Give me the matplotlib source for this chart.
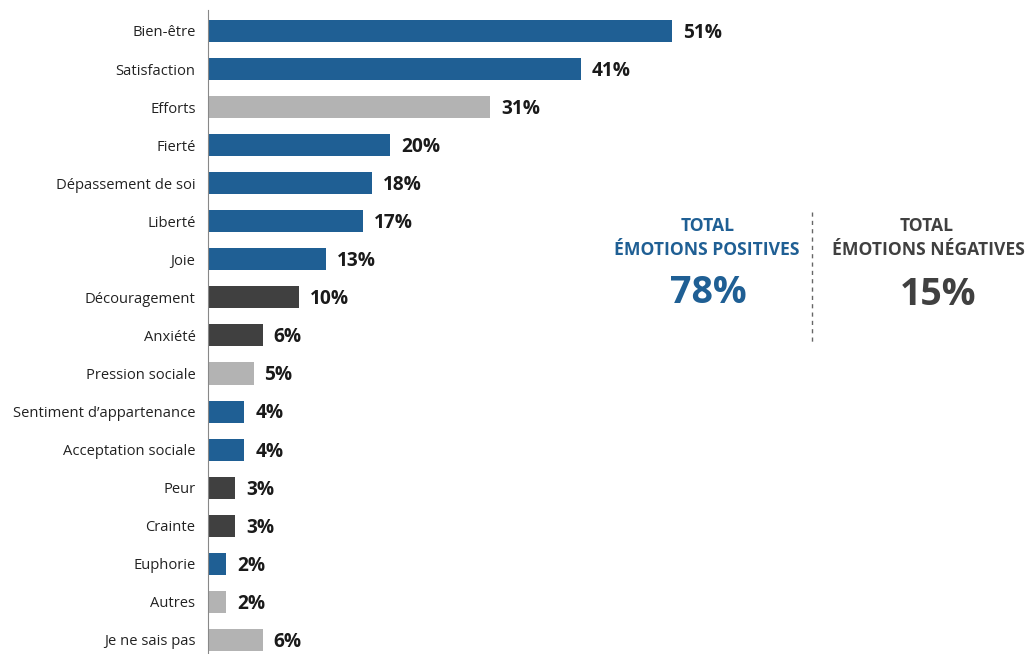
import matplotlib.pyplot as plt

# emotions ressenties, en %
emotions = ["Bien-être", "Satisfaction", "Efforts", "Fierté", "Dépassement de soi",
            "Liberté", "Joie", "Découragement", "Anxiété", "Pression sociale",
            "Sentiment d’appartenance", "Acceptation sociale", "Peur", "Crainte",
            "Euphorie", "Autres", "Je ne sais pas"]
valeurs = [51, 41, 31, 20, 18, 17, 13, 10, 6, 5, 4, 4, 3, 3, 2, 2, 6]
types = ["pos", "pos", "neutre", "pos", "pos", "pos", "pos", "neg", "neg", "neutre",
         "pos", "pos", "neg", "neg", "pos", "neutre", "neutre"]
total_positif = 78
total_negatif = 15

bleu = "#1F5F94"
gris = "#B3B3B3"
fonce = "#404040"
couleurs = {"pos": bleu, "neg": fonce, "neutre": gris}

plt.rcParams['font.family'] = ['Open Sans', 'DejaVu Sans']

fig = plt.figure(figsize=(10.29, 6.54), dpi=100)
ax = fig.add_axes([208/1029, 0, 821/1029, 1 - 10/654])

y = list(range(len(emotions)))
ax.barh(y, valeurs, height=0.58, color=[couleurs[t] for t in types])
for i, v in enumerate(valeurs):
    ax.text(v + 1.2, i + 0.05, f"{v}%", va="center", ha="left", fontsize=13.8,
            fontweight="bold", color="#1a1a1a")

ax.set_ylim(16 + 14/38, -0.55)
ax.set_xlim(0, 821/9.1)
ax.set_yticks(y)
ax.set_yticklabels(emotions, fontsize=10.6, color="#222222")
ax.tick_params(axis="y", length=0, pad=9)
ax.set_xticks([])
for s in ["top", "right", "bottom"]:
    ax.spines[s].set_visible(False)
ax.spines["left"].set_color("#888888")

# encadré des totaux
fig.text(708/1029, 1 - 226/654, "TOTAL", ha="center", va="center",
         fontsize=12.6, fontweight="bold", color=bleu)
fig.text(707/1029, 1 - 250/654, "ÉMOTIONS POSITIVES", ha="center", va="center",
         fontsize=12.6, fontweight="bold", color=bleu)
fig.text(708/1029, 1 - 293/654, f"{total_positif}%", ha="center", va="center",
         fontsize=27, fontweight="bold", color=bleu)

fig.text(927/1029, 1 - 226/654, "TOTAL", ha="center", va="center",
         fontsize=12.6, fontweight="bold", color=fonce)
fig.text(928/1029, 1 - 250/654, "ÉMOTIONS NÉGATIVES", ha="center", va="center",
         fontsize=12.6, fontweight="bold", color=fonce)
fig.text(938/1029, 1 - 295/654, f"{total_negatif}%", ha="center", va="center",
         fontsize=27, fontweight="bold", color=fonce)

fig.add_artist(plt.Line2D([812/1029, 812/1029], [1 - 212/654, 1 - 342/654],
                          linestyle=(0, (3, 3)), color="#666666", linewidth=1))

fig.savefig("out.png", dpi=100)
